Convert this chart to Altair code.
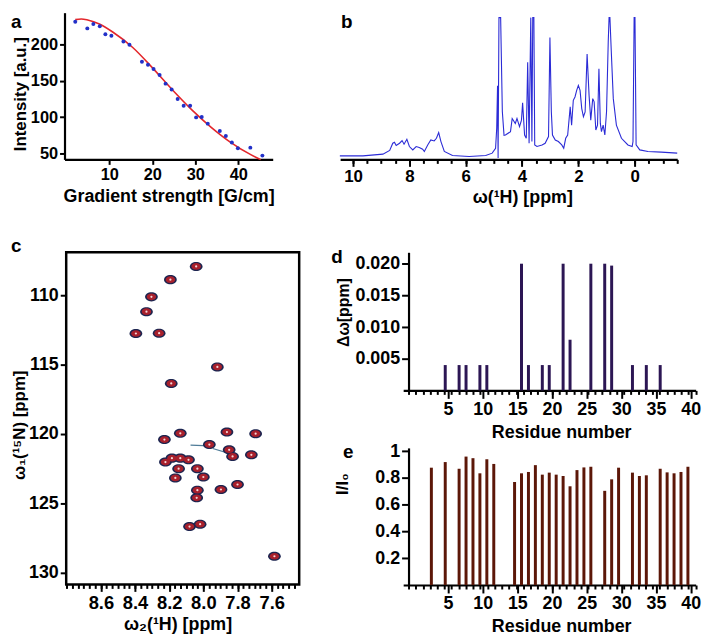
import altair as alt
import pandas as pd

W, H = 700, 628
FONT = "Liberation Sans"

# ---------------- panel a : diffusion decay ----------------
grad = [2.1, 4.9, 6.3, 7.8, 9.1, 10.5, 13.3, 14.7, 17.6, 19.0, 20.3, 21.7, 23.1,
        24.5, 25.9, 27.3, 28.8, 30.2, 31.5, 32.9, 35.7, 37.1, 38.5, 39.9, 42.8, 45.6]
inten = [231, 222, 228, 225, 214, 212, 204, 199.5, 176, 172, 166, 158, 146,
         138, 125, 115.5, 115.5, 99.6, 100, 91, 81, 74, 65, 57, 58, 47]
fit_g = [2.1, 3.5, 5.0, 7.7, 10.8, 15.4, 20.0, 24.6, 29.2, 33.7, 38.3, 43.0, 45.2]
fit_i = [234, 235, 233.5, 228, 217, 196, 168, 138, 110, 86, 65, 48, 41.5]

# ---------------- panel b : 1H spectrum ----------------
ppm = [10.47, 9.65, 8.94, 8.70, 8.59, 8.53, 8.47, 8.35, 8.26, 8.19, 8.09, 8.00, 7.88,
       7.76, 7.65, 7.53, 7.47, 7.35, 7.24, 7.12, 7.04, 6.96, 6.88, 6.76, 6.47, 5.88,
       5.29, 5.06, 4.94, 4.90, 4.87, 4.85, 4.82, 4.76, 4.70, 4.64, 4.59, 4.41, 4.35,
       4.24, 4.18, 4.09, 4.02, 3.98, 3.91, 3.85, 3.80, 3.75, 3.69, 3.65, 3.62, 3.58,
       3.55, 3.47, 3.29, 3.18, 3.06, 3.01, 2.96, 2.92, 2.82, 2.71, 2.59, 2.52, 2.45,
       2.38, 2.29, 2.24, 2.18, 2.12, 2.06, 2.00, 1.94, 1.88, 1.82, 1.76, 1.69, 1.62,
       1.56, 1.49, 1.44, 1.38, 1.32, 1.27, 1.22, 1.18, 1.12, 1.06, 1.00, 0.94, 0.91,
       0.88, 0.83, 0.76, 0.65, 0.47, 0.24, 0.09, 0.06, 0.02, -0.01, -0.05, -0.18,
       -0.47, -0.94, -1.51]
sig = [2.3, 2.3, 4, 7.7, 15, 16, 12.7, 15, 17.7, 14, 19, 11.7, 8.3,
       11.7, 10.7, 9, 6.7, 13.3, 18.3, 17.3, 20, 25.7, 16.7, 6.7, 2.7, 1.7,
       2.7, 5, 10, 30, 73, 0, 200, 200, 47, 23, 23.3, 26.7, 40,
       35, 40, 31.7, 38.3, 55.7, 23.3, 20, 96.7, 15, 200, 16.7, 200, 200,
       13.3, 11.7, 13.3, 15, 21.7, 121.7, 46.7, 23.3, 18.3, 16.7, 13.3, 10, 20,
       23.3, 51.7, 33.3, 58.3, 61.7, 68.3, 73.3, 68.3, 50, 41.7, 46.7, 105, 63.3,
       38.3, 60, 56.7, 28.3, 33.3, 90, 35, 26.7, 33.3, 23.3, 46.7, 116.7, 200,
       200, 106.7, 60, 33.3, 20, 13.3, 11.7, 16.7, 200, 200, 13.3, 8.3,
       6.7, 6, 5]

# ---------------- panel c : HSQC peaks ----------------
h_ppm = [8.042, 8.193, 8.304, 8.333, 8.395, 8.259, 7.918, 8.188, 8.135, 8.228,
         7.862, 7.694, 7.965, 7.849, 7.829, 7.719, 8.222, 8.184, 8.135, 8.087,
         8.145, 8.035, 8.000, 8.164, 7.897, 7.800, 8.035, 8.039, 8.081, 8.019, 7.584]
n_ppm = [107.93, 108.88, 110.12, 111.19, 112.76, 112.74, 115.17, 116.36, 119.95, 120.40,
         119.86, 119.98, 120.76, 121.14, 121.62, 121.50, 122.02, 121.74, 121.74, 121.86,
         122.50, 122.50, 123.10, 123.17, 124.00, 123.64, 124.05, 124.60, 126.67, 126.50, 128.81]
# thin contour streaks next to the crowded peaks
streak_id = [1, 1, 2, 2]
streak_h = [8.075, 7.965, 7.945, 7.855]
streak_n = [120.80, 120.86, 121.05, 121.38]

# ---------------- panel d : chemical shift perturbation ----------------
d_res = [5, 7, 8, 10, 11, 16, 17, 19, 20, 22, 23, 26, 28, 29, 32, 34, 36]
d_val = [0.004, 0.004, 0.004, 0.004, 0.004, 0.020, 0.004, 0.004, 0.004, 0.020,
         0.008, 0.020, 0.020, 0.0197, 0.004, 0.004, 0.004]

# ---------------- panel e : intensity ratio ----------------
e_res = [3, 5, 7, 8, 9, 10, 11, 12, 15, 16, 17, 18, 19, 20, 21, 22, 23, 24, 25, 26,
         28, 29, 30, 32, 33, 34, 36, 37, 38, 39, 40]
e_val = [0.877, 0.919, 0.869, 0.960, 0.948, 0.835, 0.940, 0.905, 0.770, 0.835, 0.845,
         0.896, 0.825, 0.840, 0.825, 0.815, 0.738, 0.859, 0.879, 0.884, 0.704, 0.790,
         0.877, 0.840, 0.815, 0.820, 0.869, 0.842, 0.835, 0.845, 0.884]

letters = ["a", "b", "c", "d", "e"]
letter_x = [3, 336, 3, 326, 338]
letter_y = [17.5, 17.5, 243, 254, 451]

# ---------------- pixel layout of panels (inside the plot area) ----------------
XA_DOM, XA_RNG = [-0.4, 48], [57, 267]
YA_DOM, YA_RNG = [41.8, 243.6], [150, 2]
XB_DOM, XB_RNG = [-1.51, 10.46], [675, 335]
YB_DOM, YB_RNG = [0, 141.7], [148.7, 7]
XC_DOM, XC_RNG = [7.439, 8.803], [293.7, 58.7]
YC_DOM, YC_RNG = [106.91, 130.84], [243.7, 578.7]
XD_DOM, XD_RNG = [-0.75, 40], [398.6, 693.6]
YD_DOM, YD_RNG = [0, 0.0218], [383, 243.7]
YE_DOM, YE_RNG = [0, 1.0248], [579.3, 441]


def sc(dom, rng, **kw):
    return alt.Scale(domain=dom, range=rng, nice=False, zero=False, **kw)


def ax(orient, offset, values, title=None, fs=15, tfs=18, tick=5, labels=True,
       domain=True, **kw):
    opts = dict(orient=orient, offset=offset, values=values, title=title,
                labelFontSize=fs, titleFontSize=tfs, tickSize=tick, labels=labels,
                domain=domain, labelPadding=2)
    opts.update(kw)
    return alt.Axis(**opts)


# panel a
a_df = pd.DataFrame({"g": grad, "i": inten})
fit_df = pd.DataFrame({"g": fit_g, "i": fit_i})
a_pts = alt.Chart(a_df).mark_circle(size=16, color="#2230c8", opacity=1).encode(
    x=alt.X("g:Q", scale=sc(XA_DOM, XA_RNG),
            axis=ax("bottom", YA_RNG[0] - H, [10, 20, 30, 40], "Gradient strength [G/cm]",
                    fs=16.5, tfs=18, titlePadding=5)),
    y=alt.Y("i:Q", scale=sc(YA_DOM, YA_RNG),
            axis=ax("left", -XA_RNG[0], [50, 100, 150, 200], "Intensity [a.u.]",
                    fs=16.5, tfs=17, titleX=-35, titleY=83.7)),
)
a_fit = alt.Chart(fit_df).mark_line(color="#e3262b", strokeWidth=1.6, interpolate="monotone").encode(
    x=alt.X("g:Q", scale=sc(XA_DOM, XA_RNG), axis=None),
    y=alt.Y("i:Q", scale=sc(YA_DOM, YA_RNG), axis=None),
)

# panel b
b_df = pd.DataFrame({"ppm": ppm, "s": sig})
b_line = alt.Chart(b_df).mark_line(color="#2b2bd6", strokeWidth=1.1).encode(
    x=alt.X("ppm:Q", scale=sc(XB_DOM, XB_RNG),
            axis=ax("bottom", YA_RNG[0] - H, [0, 2, 4, 6, 8, 10], "ω(¹H) [ppm]",
                    fs=17, tfs=18, tick=7, titlePadding=4, titleX=518.7)),
    y=alt.Y("s:Q", scale=sc(YB_DOM, YB_RNG, clamp=True), axis=None),
)
b_minor = alt.Chart(b_df).mark_point(opacity=0).encode(
    x=alt.X("ppm:Q", scale=sc(XB_DOM, XB_RNG),
            axis=ax("bottom", YA_RNG[0] - H, [-1.5 + 0.5 * k for k in range(24)],
                    tick=4, labels=False, domain=False)),
    y=alt.Y("s:Q", scale=sc(YB_DOM, YB_RNG, clamp=True), axis=None),
)

# panel c
c_df = pd.DataFrame({"h": h_ppm, "n": n_ppm})
frame_df = pd.DataFrame({"x0": [XC_DOM[0]], "x1": [XC_DOM[1]], "y0": [YC_DOM[0]], "y1": [YC_DOM[1]]})
c_frame = alt.Chart(frame_df).mark_rect(fillOpacity=0, stroke="black", strokeWidth=2.5).encode(
    x=alt.X("x0:Q", scale=sc(XC_DOM, XC_RNG), axis=None),
    x2="x1:Q",
    y=alt.Y("y0:Q", scale=sc(YC_DOM, YC_RNG), axis=None),
    y2="y1:Q",
)
streak_df = pd.DataFrame({"id": streak_id, "h": streak_h, "n": streak_n})
c_streak = alt.Chart(streak_df).mark_line(color="#4f7c98", strokeWidth=1.2).encode(
    x=alt.X("h:Q", scale=sc(XC_DOM, XC_RNG), axis=None),
    y=alt.Y("n:Q", scale=sc(YC_DOM, YC_RNG), axis=None),
    detail="id:N",
)
ELL = "M-1.4,0A1.4,1,0,1,1,1.4,0A1.4,1,0,1,1,-1.4,0Z"
c_outer = alt.Chart(c_df).mark_point(shape=ELL, filled=True, size=84, color="#1d2550", opacity=1).encode(
    x=alt.X("h:Q", scale=sc(XC_DOM, XC_RNG),
            axis=ax("bottom", YC_RNG[1] - H, [8.6, 8.4, 8.2, 8.0, 7.8, 7.6], "ω₂(¹H) [ppm]",
                    fs=18.5, tfs=18, tick=7, format=".1f", domain=False, titlePadding=4,
                    titleX=171)),
    y=alt.Y("n:Q", scale=sc(YC_DOM, YC_RNG),
            axis=ax("left", -XC_RNG[1], [110, 115, 120, 125, 130], "ω₁(¹⁵N) [ppm]",
                    fs=18, tfs=17, tick=6, domain=False, titleX=-38, titleY=417.7)),
)
c_red = alt.Chart(c_df).mark_point(shape=ELL, filled=True, size=46, color="#a8202c", opacity=1).encode(
    x=alt.X("h:Q", scale=sc(XC_DOM, XC_RNG), axis=None),
    y=alt.Y("n:Q", scale=sc(YC_DOM, YC_RNG), axis=None),
)
c_mid = alt.Chart(c_df).mark_point(shape="circle", filled=True, size=5, color="#f4d6d8", opacity=1).encode(
    x=alt.X("h:Q", scale=sc(XC_DOM, XC_RNG), axis=None),
    y=alt.Y("n:Q", scale=sc(YC_DOM, YC_RNG), axis=None),
)
c_minor = alt.Chart(c_df).mark_point(opacity=0).encode(
    x=alt.X("h:Q", scale=sc(XC_DOM, XC_RNG),
            axis=ax("bottom", YC_RNG[1] - H, [round(8.8 - k / 30, 4) for k in range(41)],
                    tick=4, labels=False, domain=False)),
    y=alt.Y("n:Q", scale=sc(YC_DOM, YC_RNG), axis=None),
)

# panel d
d_df = pd.DataFrame({"res": d_res, "v": d_val})
d_bars = alt.Chart(d_df).transform_calculate(pos="datum.res - 0.4").mark_bar(size=3, color="#2c1654").encode(
    x=alt.X("pos:Q", scale=sc(XD_DOM, XD_RNG),
            axis=ax("bottom", YD_RNG[0] - H, [5, 10, 15, 20, 25, 30, 35, 40], "Residue number",
                    fs=18, tfs=18, tick=8, titlePadding=5, titleX=558)),
    y=alt.Y("v:Q", scale=sc(YD_DOM, YD_RNG),
            axis=ax("left", -404, [0.005, 0.010, 0.015, 0.020], "Δω[ppm]",
                    fs=18, tfs=16, tick=7, format=".3f", titleX=-58, titleY=304)),
)
d_minor = alt.Chart(d_df).transform_calculate(pos="datum.res - 0.4").mark_point(opacity=0).encode(
    x=alt.X("pos:Q", scale=sc(XD_DOM, XD_RNG),
            axis=ax("bottom", YD_RNG[0] - H, list(range(0, 41)), tick=4, labels=False, domain=False)),
    y=alt.Y("v:Q", scale=sc(YD_DOM, YD_RNG), axis=None),
)

# panel e
e_df = pd.DataFrame({"res": e_res, "v": e_val})
e_bars = alt.Chart(e_df).transform_calculate(pos="datum.res - 0.4").mark_bar(size=3, color="#5c1708").encode(
    x=alt.X("pos:Q", scale=sc(XD_DOM, XD_RNG),
            axis=ax("bottom", YE_RNG[0] - H, [5, 10, 15, 20, 25, 30, 35, 40], "Residue number",
                    fs=18, tfs=18, tick=8, titlePadding=5, titleX=558)),
    y=alt.Y("v:Q", scale=sc(YE_DOM, YE_RNG),
            axis=ax("left", -404, [0.2, 0.4, 0.6, 0.8, 1.0], "I/I₀",
                    fs=18, tfs=17, tick=7, format="~g", titleX=-58, titleY=477)),
)
e_minor = alt.Chart(e_df).transform_calculate(pos="datum.res - 0.4").mark_point(opacity=0).encode(
    x=alt.X("pos:Q", scale=sc(XD_DOM, XD_RNG),
            axis=ax("bottom", YE_RNG[0] - H, list(range(0, 41)), tick=4, labels=False, domain=False)),
    y=alt.Y("v:Q", scale=sc(YE_DOM, YE_RNG), axis=None),
)

# panel letters
lab_df = pd.DataFrame({"t": letters, "x": letter_x, "y": letter_y})
labels_layer = alt.Chart(lab_df).mark_text(font=FONT, fontSize=19, fontWeight="bold",
                                           align="left", baseline="alphabetic", color="black").encode(
    x=alt.X("x:Q", scale=None, axis=None),
    y=alt.Y("y:Q", scale=None, axis=None),
    text="t:N",
)

chart = alt.layer(
    a_fit, a_pts, b_line, b_minor, c_frame, c_streak, c_outer, c_red, c_mid, c_minor,
    d_bars, d_minor, e_bars, e_minor, labels_layer,
).resolve_scale(x="independent", y="independent").resolve_axis(
    x="independent", y="independent"
).properties(
    width=W, height=H, autosize=alt.AutoSizeParams(type="none"), padding=0
).configure_view(strokeWidth=0).configure_axis(
    labelFont=FONT, titleFont=FONT, labelFontWeight="bold", titleFontWeight="bold",
    labelColor="black", titleColor="black", domainColor="black", tickColor="black",
    domainWidth=2.2, tickWidth=2, grid=False, labelFlush=False, labelOverlap=False,
)

chart.save("out.html", embed_options={"renderer": "svg", "actions": False})
